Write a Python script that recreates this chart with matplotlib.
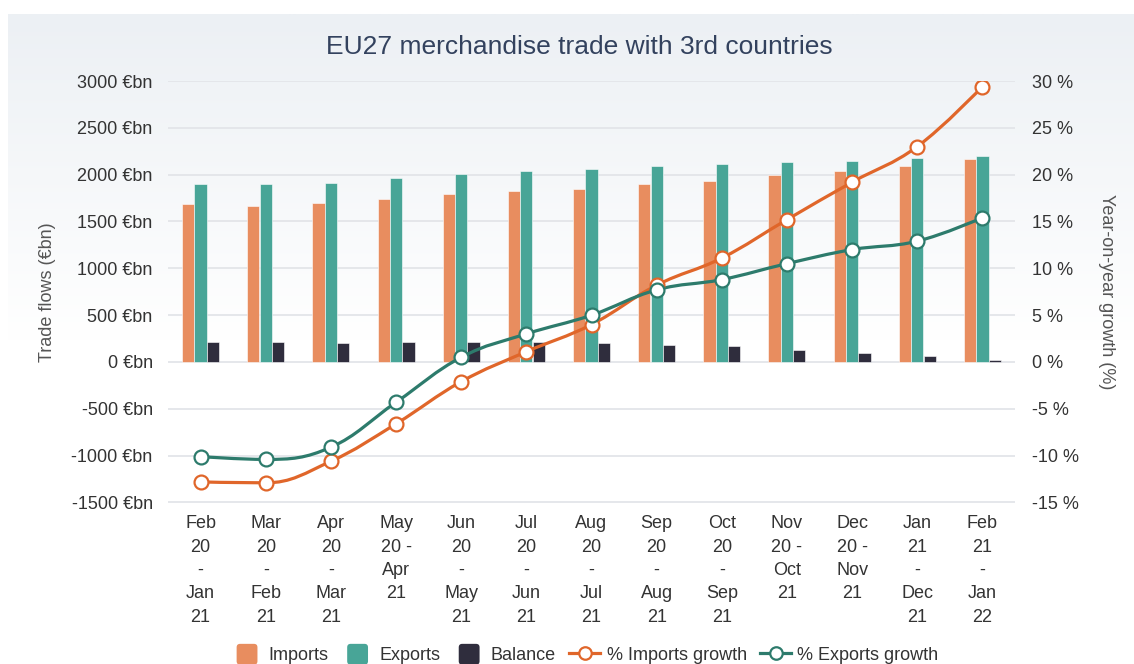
import numpy as np
import matplotlib.pyplot as plt
from matplotlib.path import Path
from matplotlib.patches import PathPatch, Patch, FancyBboxPatch
from matplotlib.legend_handler import HandlerPatch
from matplotlib.lines import Line2D

plt.rcParams['font.family'] = ['Liberation Sans', 'DejaVu Sans']

# data
periods = ["Feb\n20\n-\nJan\n21", "Mar\n20\n-\nFeb\n21", "Apr\n20\n-\nMar\n21",
           "May\n20 -\nApr\n21", "Jun\n20\n-\nMay\n21", "Jul\n20\n-\nJun\n21",
           "Aug\n20\n-\nJul\n21", "Sep\n20\n-\nAug\n21", "Oct\n20\n-\nSep\n21",
           "Nov\n20 -\nOct\n21", "Dec\n20 -\nNov\n21", "Jan\n21\n-\nDec\n21",
           "Feb\n21\n-\nJan\n22"]
imports = [1684, 1670, 1702, 1738, 1794, 1826, 1848, 1905, 1937, 1994, 2040, 2093, 2163]
exports = [1901, 1901, 1916, 1969, 2005, 2037, 2058, 2097, 2115, 2130, 2147, 2175, 2200]
balance = [218, 218, 203, 218, 218, 218, 203, 186, 168, 132, 100, 64, 26]
imp_growth = [-12.8, -12.9, -10.6, -6.6, -2.1, 1.1, 4.0, 8.2, 11.1, 15.2, 19.2, 23.0, 29.4]
exp_growth = [-10.1, -10.4, -9.1, -4.3, 0.5, 3.0, 5.0, 7.7, 8.8, 10.5, 12.0, 12.9, 15.4]

left_ticks = [-1500, -1000, -500, 0, 500, 1000, 1500, 2000, 2500, 3000]
right_ticks = [-15, -10, -5, 0, 5, 10, 15, 20, 25, 30]

c_imp = '#e88d5f'
c_exp = '#48a597'
c_bal = '#2f2d3d'
c_imp_line = '#e0662a'
c_exp_line = '#2d7b6c'
c_text = '#333333'


def spline_path(xs, ys, smoothing=1.5):
    # highcharts-like spline through the points
    n = len(xs)
    lc = [(xs[i], ys[i]) for i in range(n)]
    rc = [(xs[i], ys[i]) for i in range(n)]
    d = smoothing + 1
    for i in range(1, n - 1):
        px, py = xs[i], ys[i]
        lx, ly = xs[i - 1], ys[i - 1]
        nx, ny = xs[i + 1], ys[i + 1]
        lcx = (smoothing * px + lx) / d
        lcy = (smoothing * py + ly) / d
        rcx = (smoothing * px + nx) / d
        rcy = (smoothing * py + ny) / d
        corr = 0
        if rcx != lcx:
            corr = (rcy - lcy) * (rcx - px) / (rcx - lcx) + py - rcy
        lcy += corr
        rcy += corr
        if lcy > ly and lcy > py:
            lcy = max(ly, py); rcy = 2 * py - lcy
        elif lcy < ly and lcy < py:
            lcy = min(ly, py); rcy = 2 * py - lcy
        if rcy > ny and rcy > py:
            rcy = max(ny, py); lcy = 2 * py - rcy
        elif rcy < ny and rcy < py:
            rcy = min(ny, py); lcy = 2 * py - rcy
        lc[i] = (lcx, lcy)
        rc[i] = (rcx, rcy)
    verts = [(xs[0], ys[0])]
    codes = [Path.MOVETO]
    for i in range(1, n):
        verts += [rc[i - 1], lc[i], (xs[i], ys[i])]
        codes += [Path.CURVE4] * 3
    return Path(verts, codes)


class SquareHandler(HandlerPatch):
    # small rounded square centred in the legend handle box
    def create_artists(self, legend, orig_handle, xdescent, ydescent, width, height, fontsize, trans):
        s = 15
        x0 = -xdescent + (width - s) / 2
        y0 = -ydescent + (height - s) / 2
        p = FancyBboxPatch((x0, y0), s, s, boxstyle='round,pad=0,rounding_size=2.5',
                           facecolor=orig_handle.get_facecolor(), edgecolor='none', transform=trans)
        return [p]


fig = plt.figure(figsize=(11.34, 6.64), dpi=100)
fig.patch.set_facecolor('white')

# light gradient panel behind the chart
bg = fig.add_axes([8 / 1134, 0, 1 - 8 / 1134, 1 - 14 / 664], zorder=-5)
grad = np.linspace(0, 1, 300).reshape(-1, 1)
top = np.array([236, 240, 244]) / 255
col = top + (1 - top) * np.clip(grad / 0.5, 0, 1)[..., None]
col = np.repeat(col, 2, axis=1)
bg.imshow(col, aspect='auto', extent=[0, 1, 0, 1])
bg.axis('off')

ax = fig.add_axes([168 / 1134, 1 - 502.5 / 664, (1015 - 168) / 1134, (502.5 - 81) / 664])
ax.set_facecolor('none')
x = np.arange(len(periods))
w = 0.188
off = 0.19
ax.bar(x - off, imports, w, color=c_imp, edgecolor='white', lw=0.4, zorder=2)
ax.bar(x, exports, w, color=c_exp, edgecolor='white', lw=0.4, zorder=2)
ax.bar(x + off, balance, w, color=c_bal, edgecolor='white', lw=0.4, zorder=2)

ax.set_xlim(-0.5, len(periods) - 0.5)
ax.set_ylim(-1500, 3000)
ax.set_yticks(left_ticks)
ax.set_yticklabels([f"{v} €bn" for v in left_ticks])
ax.set_xticks(x)
ax.set_xticklabels(periods, linespacing=1.5)
ax.yaxis.grid(True, color='#e3e5e9', lw=1.3)
ax.set_axisbelow(True)
ax.tick_params(axis='y', length=0, pad=11, labelsize=13, labelcolor=c_text)
ax.tick_params(axis='x', length=0, pad=9, labelsize=13, labelcolor=c_text)
for s in ax.spines.values():
    s.set_visible(False)

ax2 = ax.twinx()
ax2.set_ylim(-15, 30)
ax2.set_yticks(right_ticks)
ax2.set_yticklabels([f"{v} %" for v in right_ticks])
ax2.tick_params(axis='y', length=0, pad=12, labelsize=13, labelcolor=c_text)
for s in ax2.spines.values():
    s.set_visible(False)

for vals, c in [(imp_growth, c_imp_line), (exp_growth, c_exp_line)]:
    ax2.add_patch(PathPatch(spline_path(list(x), vals), fill=False, edgecolor=c, lw=2.3,
                            capstyle='round', joinstyle='round', zorder=3))
    ax2.plot(x, vals, 'o', ms=10, mfc='white', mec=c, mew=1.6, zorder=4)

fig.text(579.5 / 1134, 1 - 47 / 664, "EU27 merchandise trade with 3rd countries",
         ha='center', va='center', fontsize=19, color='#33425e')
fig.text(48 / 1134, 1 - 292 / 664, "Trade flows (€bn)", rotation=90,
         ha='center', va='center', fontsize=13, color='#555555')
fig.text(1107 / 1134, 1 - 292 / 664, "Year-on-year growth (%)", rotation=270,
         ha='center', va='center', fontsize=13, color='#555555')

handles = [Patch(color=c_imp), Patch(color=c_exp), Patch(color=c_bal),
           Line2D([], [], color=c_imp_line, lw=2.3, marker='o', ms=9, mfc='white', mec=c_imp_line, mew=1.6),
           Line2D([], [], color=c_exp_line, lw=2.3, marker='o', ms=9, mfc='white', mec=c_exp_line, mew=1.6)]
labels = ['Imports', 'Exports', 'Balance', '% Imports growth', '% Exports growth']
leg = fig.legend(handles, labels, loc='center', bbox_to_anchor=(585 / 1134, 1 - 655 / 664),
                 ncol=5, frameon=False, fontsize=13, handlelength=1.7, handleheight=1.1,
                 handletextpad=0.35, columnspacing=0.75,
                 handler_map={Patch: SquareHandler()})
for t in leg.get_texts():
    t.set_color(c_text)

fig.savefig('out.png', dpi=100)
